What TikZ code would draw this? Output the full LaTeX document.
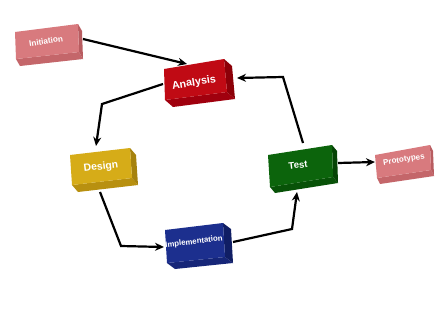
\documentclass[tikz,border=0pt]{standalone}
\usepackage{fontspec}
\setmainfont{Liberation Sans}
\usetikzlibrary{calc,arrows.meta}

\definecolor{pinkface}{RGB}{216,122,126}
\definecolor{pinkside}{RGB}{184,92,96}
\definecolor{pinkbase}{RGB}{196,102,106}
\definecolor{redface}{RGB}{192,10,20}
\definecolor{redside}{RGB}{140,0,8}
\definecolor{redbase}{RGB}{160,0,14}
\definecolor{goldface}{RGB}{214,172,24}
\definecolor{goldside}{RGB}{166,130,14}
\definecolor{goldbase}{RGB}{184,144,16}
\definecolor{navyface}{RGB}{28,47,142}
\definecolor{navyside}{RGB}{16,30,100}
\definecolor{navybase}{RGB}{22,38,120}
\definecolor{greenface}{RGB}{12,100,12}
\definecolor{greenside}{RGB}{6,68,6}
\definecolor{greenbase}{RGB}{8,82,8}

% a slab: front face #1tl-#1tr-#1br-#1bl, pushed back along the vector #1d
\newcommand\slab[4]{%
  \fill[#4] (#1bl) -- (#1br) -- ($(#1br)+(#1d)$) -- ($(#1bl)+(#1d)$) -- cycle;
  \fill[#3] (#1tr) -- ($(#1tr)+(#1d)$) -- ($(#1br)+(#1d)$) -- (#1br) -- cycle;
  \fill[#2] (#1tl) -- (#1tr) -- (#1br) -- (#1bl) -- cycle;
}

\tikzset{
  flow/.style={line width=2.2pt, draw=black, -{Stealth[length=9pt,width=8pt]}},
  boxtext/.style={text=white, inner sep=0pt, font=\bfseries}
}

\begin{document}
\begin{tikzpicture}[x=1pt,y=-1pt]
\fill[white] (0,0) rectangle (435,324);
\useasboundingbox (0,0) rectangle (435,324);

% corner points of the slabs
\coordinate (inittl) at (15,32);  \coordinate (inittr) at (78,24);
\coordinate (initbr) at (79,52);  \coordinate (initbl) at (16,59);
\coordinate (initd) at (4,7);

\coordinate (anatl) at (164,69);  \coordinate (anatr) at (224,59);
\coordinate (anabr) at (227,92);  \coordinate (anabl) at (165,100);
\coordinate (anad) at (8,7);

\coordinate (destl) at (70,155);  \coordinate (destr) at (130,148);
\coordinate (desbr) at (132,178); \coordinate (desbl) at (72,185);
\coordinate (desd) at (6,7);

\coordinate (imptl) at (165,230); \coordinate (imptr) at (223,223);
\coordinate (impbr) at (225,257); \coordinate (impbl) at (167,263);
\coordinate (impd) at (8,6);

\coordinate (testtl) at (268,155); \coordinate (testtr) at (332,145);
\coordinate (testbr) at (333,177); \coordinate (testbl) at (270,187);
\coordinate (testd) at (5,6);

\coordinate (prottl) at (375,155); \coordinate (prottr) at (430,145);
\coordinate (protbr) at (431,170); \coordinate (protbl) at (377,178);
\coordinate (protd) at (3,6);

\slab{init}{pinkface}{pinkside}{pinkbase}
\slab{ana}{redface}{redside}{redbase}
\slab{des}{goldface}{goldside}{goldbase}
\slab{imp}{navyface}{navyside}{navybase}
\slab{test}{greenface}{greenside}{greenbase}
\slab{prot}{pinkface}{pinkside}{pinkbase}

% labels
\node[boxtext, rotate=9, font=\bfseries\fontsize{8.2}{9}\selectfont] (init) at (46,41) {Initiation};
\node[boxtext, rotate=9, font=\bfseries\fontsize{10.8}{12}\selectfont] (ana) at (194,83) {Analysis};
\node[boxtext, rotate=7, font=\bfseries\fontsize{10.4}{12}\selectfont] (des) at (101,167) {Design};
\node[boxtext, rotate=7, font=\bfseries\fontsize{7.8}{9}\selectfont] (imp) at (194,242) {Implementation};
\node[boxtext, rotate=6, font=\bfseries\fontsize{9.6}{11}\selectfont] (test) at (298,165) {Test};
\node[boxtext, rotate=9, font=\bfseries\fontsize{8}{9}\selectfont] (prot) at (404,160) {Prototypes};

% connector end points and bends
\coordinate (initout) at (83,39);   \coordinate (anain) at (187,64);
\coordinate (anaout) at (163,84);   \coordinate (b1) at (102,104);  \coordinate (desin) at (96,146);
\coordinate (desout) at (100,192);  \coordinate (b2) at (121,246);  \coordinate (impin) at (164,247);
\coordinate (impout) at (233,242);  \coordinate (b3) at (292,229);  \coordinate (testin) at (297,192);
\coordinate (testout) at (303,143); \coordinate (b4) at (283,77);   \coordinate (anain2) at (237,78);
\coordinate (testout2) at (338,163); \coordinate (protin) at (375,162);

\draw[flow] (initout) -- (anain);
\draw[flow] (anaout) -- (b1) -- (desin);
\draw[flow] (desout) -- (b2) -- (impin);
\draw[flow] (impout) -- (b3) -- (testin);
\draw[flow] (testout) -- (b4) -- (anain2);
\draw[flow] (testout2) -- (protin);
\end{tikzpicture}
\end{document}
